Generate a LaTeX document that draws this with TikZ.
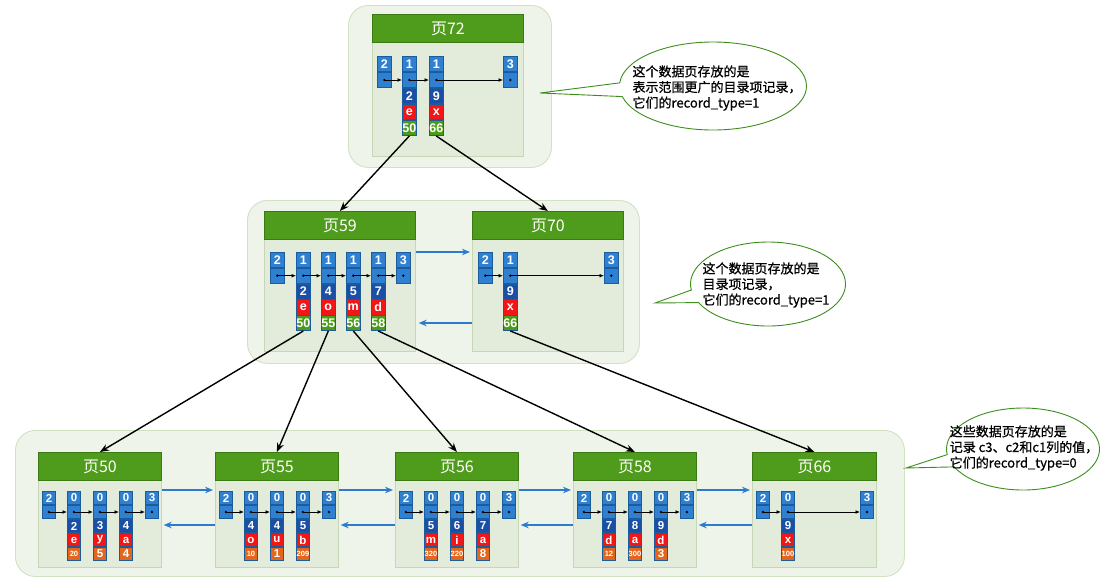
\documentclass[tikz,border=0pt]{standalone}
\usepackage{fontspec}
\setmainfont{Noto Sans CJK SC}
\newfontfamily\notefam{Noto Sans CJK SC}[FakeBold=0.7]
\newfontfamily\recfam{Liberation Sans}
\usetikzlibrary{arrows.meta,positioning,shapes.callouts,shapes.geometric}
\definecolor{headF}{HTML}{4F9B1C}
\definecolor{headB}{HTML}{3B7A12}
\definecolor{bodyF}{HTML}{E3EBDA}
\definecolor{bodyB}{HTML}{C6D7B6}
\definecolor{grpF}{HTML}{EFF4EA}
\definecolor{grpB}{HTML}{D0E2C2}
\definecolor{recF}{HTML}{2F80D1}
\definecolor{cellB}{HTML}{1B5C9C}
\definecolor{numF}{HTML}{1B4FA6}
\definecolor{redF}{HTML}{F21616}
\definecolor{grnF}{HTML}{4B9A18}
\definecolor{orgF}{HTML}{E4661C}
\definecolor{arrB}{HTML}{2C7CCB}
\definecolor{noteB}{HTML}{3E8E1E}
\def\RW{14pt}
\def\RH{15.3pt}
\def\RF{\recfam\bfseries\fontsize{12.5}{12.5}\selectfont}
\newcommand\sm{\fontsize{7.5}{7.5}\selectfont}
\tikzset{
  grp/.style={draw=grpB, fill=grpF, rounded corners=20pt, line width=0.9pt, anchor=north west, inner sep=0},
  pbody/.style={draw=bodyB, fill=bodyF, line width=0.7pt, anchor=north west, inner sep=0},
  phead/.style={draw=headB, fill=headF, text=white, font=\fontsize{16}{16}\selectfont, line width=0.8pt, anchor=north west, inner sep=0},
  cell/.style={draw=cellB, line width=0.6pt, inner sep=0, minimum width=\RW, minimum height=\RH, text=white, font=\RF},
  cb/.style={cell, fill=recF},
  cn/.style={cell, fill=numF},
  cr/.style={cell, fill=redF},
  cg/.style={cell, fill=grnF},
  co/.style={cell, fill=orgF},
  ptr/.style={-{Latex[length=4.5pt,width=3.8pt]}, line width=0.8pt},
  link/.style={-{Stealth[length=9pt,width=7pt]}, line width=1.4pt},
  blu/.style={-{Stealth[length=8pt,width=6.5pt]}, draw=arrB, line width=1.7pt},
  note/.style={ellipse callout, draw=noteB, fill=white, line width=0.9pt, inner sep=0, callout pointer arc=18},
  ntext/.style={align=left, font=\notefam\fontsize{13}{15.6}\selectfont, inner sep=0},
}
\newcommand\rtwo[4]{%
  \node[cb, anchor=north west] (#1t) at (#2,#3) {#4};
  \node[cb, below=0pt of #1t] (#1p) {};
  \fill (#1p.center) circle (1.3pt);}
\newcommand\rfull[8]{%
  \rtwo{#1}{#2}{#3}{#4}
  \node[cn, below=0pt of #1p] (#1n) {#5};
  \node[cr, below=0pt of #1n] (#1l) {#6};
  \node[#8, below=0pt of #1l] (#1v) {#7};}
\begin{document}
\begin{tikzpicture}[x=1pt,y=-1pt]
\fill[white] (0,0) rectangle (1106,584);
\useasboundingbox (0,0) rectangle (1106,584);
% groups
\node[grp, minimum width=203pt, minimum height=162pt] (g1) at (348,5) {};
\node[grp, minimum width=392pt, minimum height=163pt] (g2) at (247,200) {};
\node[grp, minimum width=889pt, minimum height=146pt] (g3) at (15,430) {};
% top page
\node[pbody, minimum width=151pt, minimum height=114pt] (b72) at (372,42) {};
\node[phead, minimum width=151pt, minimum height=28pt] (h72) at (372,14) {页72};
% middle pages
\node[pbody, minimum width=151pt, minimum height=112pt] (b59) at (264,239) {};
\node[phead, minimum width=151pt, minimum height=28pt] (h59) at (264,211) {页59};
\node[pbody, minimum width=151pt, minimum height=112pt] (b70) at (472,239) {};
\node[phead, minimum width=151pt, minimum height=28pt] (h70) at (472,211) {页70};
% bottom pages
\node[pbody, minimum width=123pt, minimum height=87pt] (b50) at (38,480) {};
\node[phead, minimum width=123pt, minimum height=28pt] (h50) at (38,452) {页50};
\node[pbody, minimum width=123pt, minimum height=87pt] (b55) at (215,480) {};
\node[phead, minimum width=123pt, minimum height=28pt] (h55) at (215,452) {页55};
\node[pbody, minimum width=123pt, minimum height=87pt] (b56) at (395,480) {};
\node[phead, minimum width=123pt, minimum height=28pt] (h56) at (395,452) {页56};
\node[pbody, minimum width=123pt, minimum height=87pt] (b58) at (573,480) {};
\node[phead, minimum width=123pt, minimum height=28pt] (h58) at (573,452) {页58};
\node[pbody, minimum width=124pt, minimum height=87pt] (b66) at (752,480) {};
\node[phead, minimum width=124pt, minimum height=28pt] (h66) at (752,452) {页66};
% top records
\def\RH{15.4pt}
\rtwo{a72}{377}{56}{2}
\rfull{b72r}{402}{56}{1}{2}{e}{50}{cg}
\rfull{c72}{429}{56}{1}{9}{x}{66}{cg}
\rtwo{d72}{503}{56}{3}
\draw[ptr] (a72p.center) -- (b72rp.west);
\draw[ptr] (b72rp.center) -- (c72p.west);
\draw[ptr] (c72p.center) -- (d72p.west);
% middle records
\def\RH{15.2pt}
\rtwo{a59}{270}{252}{2}
\rfull{b59r}{296}{252}{1}{2}{e}{50}{cg}
\rfull{c59}{321}{252}{1}{4}{o}{55}{cg}
\rfull{d59}{346}{252}{1}{5}{m}{56}{cg}
\rfull{e59}{371}{252}{1}{7}{d}{58}{cg}
\rtwo{f59}{396}{252}{3}
\draw[ptr] (a59p.center) -- (b59rp.west);
\draw[ptr] (b59rp.center) -- (c59p.west);
\draw[ptr] (c59p.center) -- (d59p.west);
\draw[ptr] (d59p.center) -- (e59p.west);
\draw[ptr] (e59p.center) -- (f59p.west);
\rtwo{a70}{478}{252}{2}
\rfull{b70r}{503}{252}{1}{9}{x}{66}{cg}
\rtwo{c70}{604}{252}{3}
\draw[ptr] (a70p.center) -- (b70rp.west);
\draw[ptr] (b70rp.center) -- (c70p.west);
% bottom records
\def\RW{13.3pt}
\def\RH{13.4pt}
\def\RF{\recfam\bfseries\fontsize{11.5}{11.5}\selectfont}
\rtwo{a50}{42}{491}{2}
\rfull{b50r}{67}{491}{0}{2}{e}{\sm 20}{co}
\rfull{c50}{93}{491}{0}{3}{y}{5}{co}
\rfull{d50}{119}{491}{0}{4}{a}{4}{co}
\rtwo{e50}{145}{491}{3}
\rtwo{a55}{219}{491}{2}
\rfull{b55r}{244}{491}{0}{4}{o}{\sm 10}{co}
\rfull{c55}{270}{491}{0}{4}{u}{1}{co}
\rfull{d55}{296}{491}{0}{5}{b}{\sm 209}{co}
\rtwo{e55}{322}{491}{3}
\rtwo{a56}{399}{491}{2}
\rfull{b56r}{424}{491}{0}{5}{m}{\sm 320}{co}
\rfull{c56}{450}{491}{0}{6}{i}{\sm 220}{co}
\rfull{d56}{476}{491}{0}{7}{a}{8}{co}
\rtwo{e56}{502}{491}{3}
\rtwo{a58}{577}{491}{2}
\rfull{b58r}{602}{491}{0}{7}{d}{\sm 12}{co}
\rfull{c58}{628}{491}{0}{8}{a}{\sm 300}{co}
\rfull{d58}{654}{491}{0}{9}{d}{3}{co}
\rtwo{e58}{680}{491}{3}
\rtwo{a66}{756}{491}{2}
\rfull{b66r}{781}{491}{0}{9}{x}{\sm 100}{co}
\rtwo{c66}{860}{491}{3}
\foreach \p in {50,55,56,58}{
  \draw[ptr] (a\p p.center) -- (b\p rp.west);
  \draw[ptr] (b\p rp.center) -- (c\p p.west);
  \draw[ptr] (c\p p.center) -- (d\p p.west);
  \draw[ptr] (d\p p.center) -- (e\p p.west);
}
\draw[ptr] (a66p.center) -- (b66rp.west);
\draw[ptr] (b66rp.center) -- (c66p.west);
% sibling links (blue)
\draw[blu] ([yshift=-13pt]b59.north east) -- ([yshift=-13pt,xshift=-2pt]b70.north west);
\draw[blu] ([yshift=-84pt]b70.north west) -- ([yshift=-84pt,xshift=3pt]b59.north east);
\draw[blu] ([yshift=-10pt]b50.north east) -- ([yshift=-10pt,xshift=-2pt]b55.north west);
\draw[blu] ([yshift=-45pt]b55.north west) -- ([yshift=-45pt,xshift=2pt]b50.north east);
\draw[blu] ([yshift=-10pt]b55.north east) -- ([yshift=-10pt,xshift=-2pt]b56.north west);
\draw[blu] ([yshift=-45pt]b56.north west) -- ([yshift=-45pt,xshift=2pt]b55.north east);
\draw[blu] ([yshift=-10pt]b56.north east) -- ([yshift=-10pt,xshift=-2pt]b58.north west);
\draw[blu] ([yshift=-45pt]b58.north west) -- ([yshift=-45pt,xshift=2pt]b56.north east);
\draw[blu] ([yshift=-10pt]b58.north east) -- ([yshift=-10pt,xshift=-2pt]b66.north west);
\draw[blu] ([yshift=-45pt]b66.north west) -- ([yshift=-45pt,xshift=2pt]b58.north east);
% tree links (black)
\draw[link] (b72rv.south) -- (h59.north);
\draw[link] (c72v.south) -- (h70.north);
\draw[link] (b59rv.south) -- (h50.north);
\draw[link] (c59v.south) -- (h55.north);
\draw[link] (d59v.south) -- (h56.north);
\draw[link] (e59v.south) -- (h58.north);
\draw[link] (b70rv.south) -- (h66.north);
% callouts
\node[note, minimum width=187pt, minimum height=88pt, callout absolute pointer={(540,93)}] (n1) at (713,86) {};
\node[ntext] (t1) at (717,88) {这个数据页存放的是\\表示范围更广的目录项记录，\\它们的record\_type=1};
\node[note, minimum width=155pt, minimum height=84pt, callout absolute pointer={(655,303)}] (n2) at (768,284) {};
\node[ntext] (t2) at (766,285) {这个数据页存放的是\\目录项记录，\\它们的record\_type=1};
\node[note, minimum width=153pt, minimum height=82pt, callout absolute pointer={(906,468)}] (n3) at (1023,449) {};
\node[ntext] (t3) at (1024,448) {这些数据页存放的是\\记录 c3、c2和c1列的值，\\它们的record\_type=0};
\end{tikzpicture}
\end{document}
